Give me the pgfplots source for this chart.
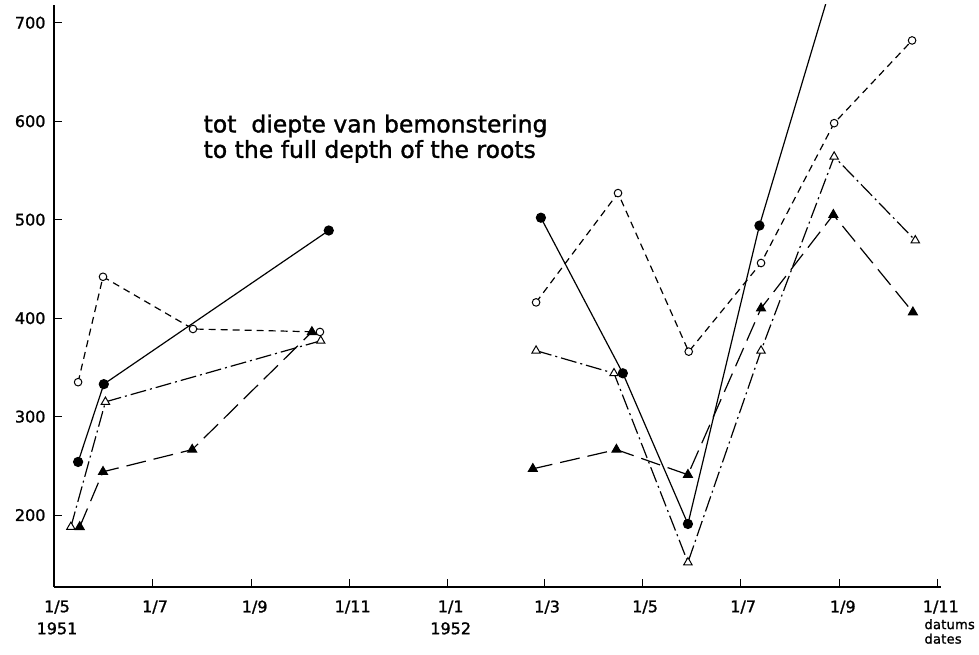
\documentclass[border=0pt]{standalone}
\usepackage{fontspec}
\setmainfont{DejaVu Sans}[BoldFont={DejaVu Sans}, BoldFeatures={FakeBold=1.3}]
\usepackage{pgfplots}
\pgfplotsset{compat=1.18}
\begin{document}
\begin{tikzpicture}[x=1pt,y=1pt,font=\bfseries]
\useasboundingbox (-54,-68) rectangle (925,587);
\begin{axis}[
  at={(0,0)}, anchor=south west,
  scale only axis, width=887pt, height=582pt,
  xmin=0, xmax=552, ymin=127, ymax=718,
  axis lines=left,
  axis line style={-, line width=1.3pt},
  tick style={black, line width=1pt},
  tick align=inside,
  major tick length=8pt,
  xtick={0,61,123,184,245,305,366,427,489,550},
  xticklabels={{1/5\\1951},1/7,1/9,1/11,{1/1\\1952},1/3,1/5,1/7,1/9,1/11},
  ytick={200,300,400,500,600,700},
  yticklabels={200,300,400,500,600,700},
  xticklabel style={align=center, font=\bfseries\fontsize{16}{22}\selectfont, yshift=-10pt, xshift=3pt},
  yticklabel style={font=\bfseries\fontsize{16}{18}\selectfont, xshift=-5pt},
  unbounded coords=jump,
  clip marker paths=true,
]
% filled circles, solid
\addplot[black, line width=1.2pt, mark=*, mark size=4.5pt] table {
x y
15 254
31 333
171 489
nan nan
303 502
354 344
394.5 191
439 494
485 745
};
% open circles, short dashes
\addplot[black, line width=1.2pt, dash pattern=on 7pt off 5pt, mark=*, mark size=3.8pt, mark options={solid, fill=white, line width=1pt}] table {
x y
15 335
30.5 442
86.5 389
165.5 386
nan nan
300 416
351 527
395 366
440 456
485.5 598
534 682
};
% open triangles, dash-dot
\addplot[black, line width=1.2pt, dash pattern=on 16pt off 4pt on 2pt off 4pt, mark=triangle*, mark size=4.8pt, mark options={solid, fill=white, line width=1pt}] table {
x y
10.5 188
32 315
166 377
nan nan
300 367
348.5 344
394.5 152
440 367
485.5 564
536 479
};
% filled triangles, long dashes
\addplot[black, line width=1.2pt, dash pattern=on 20pt off 8pt, mark=triangle*, mark size=5pt, mark options={solid, fill=black}] table {
x y
16 188
30.5 244
86 266.5
160.5 386
nan nan
298 247
350 266.5
394.5 241
440 410
485 505
534.5 406
};
\node[anchor=north west, align=left, inner sep=0pt, font=\bfseries\fontsize{23.5}{25.5}\selectfont] at (axis cs:93,607) {tot\ \ diepte van bemonstering\\to the full depth of the roots};
\end{axis}
\node[anchor=north east, align=left, inner sep=0pt, font=\bfseries\fontsize{13}{14.5}\selectfont\addfontfeatures{LetterSpace=2}] at (921,-32) {datums\\dates};
\end{tikzpicture}
\end{document}
